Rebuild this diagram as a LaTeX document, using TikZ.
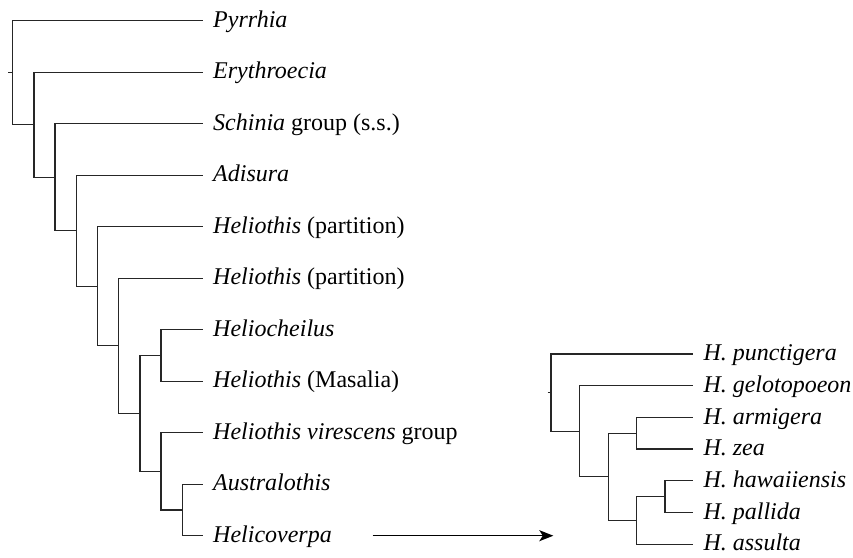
\documentclass[tikz,border=0pt]{standalone}
\usepackage{fontspec}
\setmainfont{Liberation Serif}
\usetikzlibrary{arrows.meta}
\begin{document}
\begin{tikzpicture}[x=1pt,y=-1pt,
  branch/.style={line width=1.3pt, draw=black!85},
  taxon/.style={anchor=west, inner xsep=10pt, inner ysep=0pt, text height=17pt, text depth=3.6pt, font=\fontsize{24}{27}\selectfont},
  pointer/.style={line width=1.3pt, draw=black, -{Stealth[length=14pt,width=11pt,inset=3.5pt]}}]
\useasboundingbox (0,0) rectangle (853,557);
% left tree leaves
\node[taxon] (pyr) at (203,20.7) {\textit{Pyrrhia}};
\node[taxon] (ery) at (203,72.2) {\textit{Erythroecia}};
\node[taxon] (sch) at (203,123.7) {\textit{Schinia} group (s.s.)};
\node[taxon] (adi) at (203,175.2) {\textit{Adisura}};
\node[taxon] (hpa) at (203,226.7) {\textit{Heliothis} (partition)};
\node[taxon] (hpb) at (203,278.2) {\textit{Heliothis} (partition)};
\node[taxon] (hch) at (203,329.7) {\textit{Heliocheilus}};
\node[taxon] (mas) at (203,381.2) {\textit{Heliothis} (Masalia)};
\node[taxon] (vir) at (203,432.7) {\textit{Heliothis virescens} group};
\node[taxon] (aus) at (203,484.2) {\textit{Australothis}};
\node[taxon] (hcv) at (203,535.7) {\textit{Helicoverpa}};
% left tree internal nodes
\coordinate (Lstub) at (8,72.7);
\coordinate (LA) at (12.7,72.7);
\coordinate (LB) at (33.9,124.7);
\coordinate (LC) at (55.1,177.2);
\coordinate (LD) at (76.3,230.7);
\coordinate (LE) at (97.5,286.25);
\coordinate (LF) at (118.7,345.8);
\coordinate (LG) at (139.9,413.4);
\coordinate (LH) at (161.1,355.45);
\coordinate (LI) at (161.1,471.3);
\coordinate (LJ) at (182.3,509.95);
\draw[branch] (Lstub) -- (LA);
\draw[branch] (LA) |- (pyr.west);
\draw[branch] (LA) |- (LB);
\draw[branch] (LB) |- (ery.west);
\draw[branch] (LB) |- (LC);
\draw[branch] (LC) |- (sch.west);
\draw[branch] (LC) |- (LD);
\draw[branch] (LD) |- (adi.west);
\draw[branch] (LD) |- (LE);
\draw[branch] (LE) |- (hpa.west);
\draw[branch] (LE) |- (LF);
\draw[branch] (LF) |- (hpb.west);
\draw[branch] (LF) |- (LG);
\draw[branch] (LG) |- (LH);
\draw[branch] (LG) |- (LI);
\draw[branch] (LH) |- (hch.west);
\draw[branch] (LH) |- (mas.west);
\draw[branch] (LI) |- (vir.west);
\draw[branch] (LI) |- (LJ);
\draw[branch] (LJ) |- (aus.west);
\draw[branch] (LJ) |- (hcv.west);
% right tree leaves
\node[taxon] (pun) at (693.3,354) {\textit{H. punctigera}};
\node[taxon] (gel) at (693.3,385.7) {\textit{H. gelotopoeon}};
\node[taxon] (arm) at (693.3,417.4) {\textit{H. armigera}};
\node[taxon] (zea) at (693.3,449.1) {\textit{H. zea}};
\node[taxon] (haw) at (693.3,480.8) {\textit{H. hawaiiensis}};
\node[taxon] (pal) at (693.3,512.5) {\textit{H. pallida}};
\node[taxon] (ass) at (693.3,544.2) {\textit{H. assulta}};
% right tree internal nodes
\coordinate (Rstub) at (547.7,392.6);
\coordinate (RA) at (551,392.6);
\coordinate (RB) at (579.3,431.25);
\coordinate (RC) at (608.3,476.8);
\coordinate (RD) at (636.7,433.25);
\coordinate (RE) at (636.7,520.4);
\coordinate (RF) at (665,496.65);
\draw[branch] (Rstub) -- (RA);
\draw[branch] (RA) |- (pun.west);
\draw[branch] (RA) |- (RB);
\draw[branch] (RB) |- (gel.west);
\draw[branch] (RB) |- (RC);
\draw[branch] (RC) |- (RD);
\draw[branch] (RC) |- (RE);
\draw[branch] (RD) |- (arm.west);
\draw[branch] (RD) |- (zea.west);
\draw[branch] (RE) |- (RF);
\draw[branch] (RE) |- (ass.west);
\draw[branch] (RF) |- (haw.west);
\draw[branch] (RF) |- (pal.west);
% arrow
\coordinate (arrA) at (372.7,535.7);
\coordinate (arrB) at (553.3,535.7);
\draw[pointer] (arrA) -- (arrB);
\end{tikzpicture}
\end{document}
